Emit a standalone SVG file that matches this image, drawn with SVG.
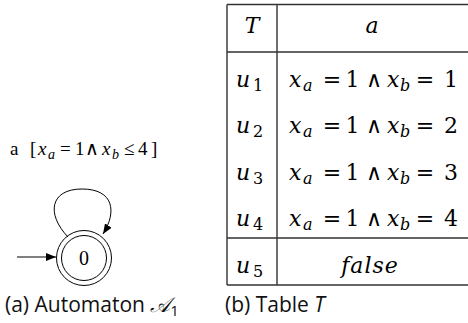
<svg xmlns="http://www.w3.org/2000/svg" width="468" height="323" viewBox="0 0 468 323">
<style>
.cap{font-family:'Open Sans','Noto Sans',sans-serif;font-size:21px;fill:#111}
.ln{stroke:#333;stroke-width:1.4;fill:none}
.st{stroke:#000;stroke-width:1;fill:none}
.m{text-anchor:middle}
</style>
<defs>
<marker id="ah" markerWidth="10" markerHeight="8" refX="10" refY="4" orient="auto" markerUnits="userSpaceOnUse">
<path d="M0,0 L10,4 L0,8 Z" fill="#000"/>
</marker>
</defs>
<g id="connectors">
<path class="st" d="M17,257 L56,257" marker-end="url(#ah)"/>
<path class="st" d="M68,237 C46,214 50,189 82,189 C114,189 117,212 103,234" marker-end="url(#ah)"/>
</g>
<g id="state0">
<circle class="st" cx="84" cy="258" r="27.5"/>
<circle class="st" cx="84" cy="258" r="22.5"/>
<text font-family="Times New Roman, serif" x="84" y="265" font-size="20" text-anchor="middle">0</text>
</g>
<g id="loop-label" font-family="Times New Roman, serif" font-size="19">
<text y="155"><tspan x="10">a</tspan><tspan x="30">[</tspan><tspan x="38" font-style="italic">x</tspan><tspan x="48" y="159" font-style="italic" font-size="14">a</tspan><tspan x="60" y="155">=</tspan><tspan x="75">1</tspan><tspan x="85">∧</tspan><tspan x="102" font-style="italic">x</tspan><tspan x="112" y="159" font-style="italic" font-size="14">b</tspan><tspan x="124" y="155">≤</tspan><tspan x="138">4</tspan><tspan x="151">]</tspan></text>
</g>
<g id="table" font-family="DejaVu Serif, serif" font-size="22">
<path class="ln" d="M227,4.5 H468 M227,52 H468 M227,238 H468 M227,285 H468 M227,4.5 V285 M277,4.5 V285"/>
<text font-style="italic" x="252" y="33" class="m">T</text>
<text font-style="italic" x="372" y="33" class="m">a</text>
<g id="row1">
<text><tspan font-style="italic" x="236" y="87">u</tspan><tspan x="253" y="91" font-size="16">1</tspan></text>
<text y="87"><tspan font-style="italic" x="289">x</tspan><tspan font-style="italic" x="303" y="91" font-size="16">a</tspan></text>
<text y="87" class="m"><tspan x="332">=</tspan><tspan x="352.5">1</tspan><tspan x="374">∧</tspan></text>
<text y="87"><tspan font-style="italic" x="387">x</tspan><tspan font-style="italic" x="400" y="91" font-size="16">b</tspan></text>
<text y="87" class="m"><tspan x="425">=</tspan><tspan x="451">1</tspan></text>
</g>
<g id="row2">
<text><tspan font-style="italic" x="236" y="133">u</tspan><tspan x="253" y="137" font-size="16">2</tspan></text>
<text y="133"><tspan font-style="italic" x="289">x</tspan><tspan font-style="italic" x="303" y="137" font-size="16">a</tspan></text>
<text y="133" class="m"><tspan x="332">=</tspan><tspan x="352.5">1</tspan><tspan x="374">∧</tspan></text>
<text y="133"><tspan font-style="italic" x="387">x</tspan><tspan font-style="italic" x="400" y="137" font-size="16">b</tspan></text>
<text y="133" class="m"><tspan x="425">=</tspan><tspan x="451">2</tspan></text>
</g>
<g id="row3">
<text><tspan font-style="italic" x="236" y="180">u</tspan><tspan x="253" y="184" font-size="16">3</tspan></text>
<text y="180"><tspan font-style="italic" x="289">x</tspan><tspan font-style="italic" x="303" y="184" font-size="16">a</tspan></text>
<text y="180" class="m"><tspan x="332">=</tspan><tspan x="352.5">1</tspan><tspan x="374">∧</tspan></text>
<text y="180"><tspan font-style="italic" x="387">x</tspan><tspan font-style="italic" x="400" y="184" font-size="16">b</tspan></text>
<text y="180" class="m"><tspan x="425">=</tspan><tspan x="451">3</tspan></text>
</g>
<g id="row4">
<text><tspan font-style="italic" x="236" y="226">u</tspan><tspan x="253" y="230" font-size="16">4</tspan></text>
<text y="226"><tspan font-style="italic" x="289">x</tspan><tspan font-style="italic" x="303" y="230" font-size="16">a</tspan></text>
<text y="226" class="m"><tspan x="332">=</tspan><tspan x="352.5">1</tspan><tspan x="374">∧</tspan></text>
<text y="226"><tspan font-style="italic" x="387">x</tspan><tspan font-style="italic" x="400" y="230" font-size="16">b</tspan></text>
<text y="226" class="m"><tspan x="425">=</tspan><tspan x="451">4</tspan></text>
</g>
<g id="row5">
<text><tspan font-style="italic" x="236" y="273">u</tspan><tspan x="253" y="277" font-size="16">5</tspan></text>
<text font-style="italic" x="370" y="273" class="m" letter-spacing="1">false</text>
</g>
</g>
<g id="captions">
<text class="cap" x="5" y="312">(a) Automaton <tspan font-family="DejaVu Sans" font-style="italic">𝒜</tspan><tspan font-size="15" dy="4">1</tspan></text>
<text class="cap" x="225" y="312">(b) Table <tspan font-style="italic">T</tspan></text>
</g>
</svg>
